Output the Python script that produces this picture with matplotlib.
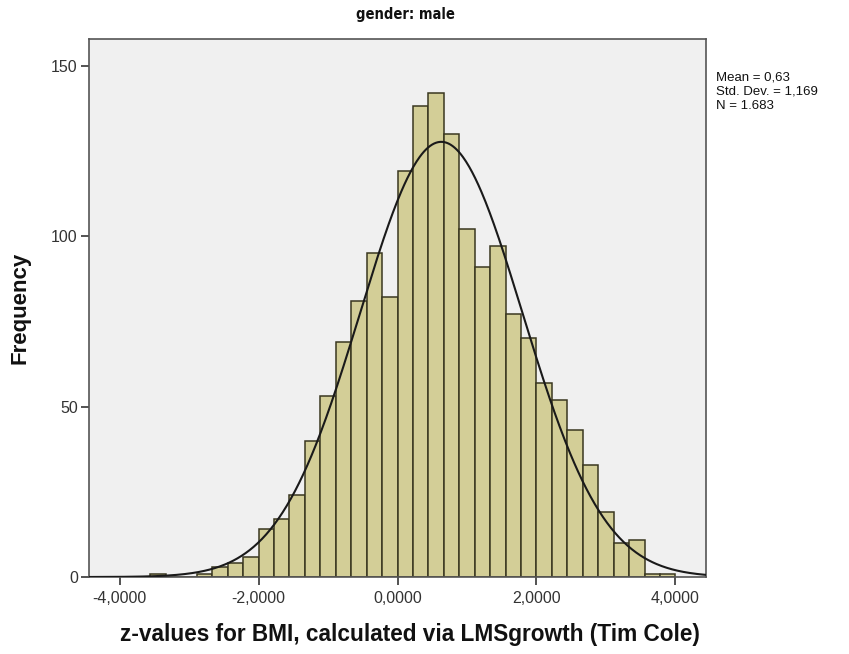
import numpy as np
import matplotlib
matplotlib.use("Agg")
import matplotlib.pyplot as plt

# Histogram of BMI z-scores (boys), bin width 2/9 with edges aligned at 0
bin_width = 2.0 / 9.0
first_bin_index = -16
counts = [1, 0, 0, 1, 3, 4, 6, 14, 17, 24, 40, 53, 69, 81, 95,
          82, 119, 138, 142, 130, 102, 91, 97, 77, 70, 57, 52, 43, 33,
          19, 10, 11, 1, 1]
mean_z = 0.63
sd_z = 1.169
n_obs = 1683

x_ticks = [-4, -2, 0, 2, 4]
x_tick_labels = ["-4,0000", "-2,0000", "0,0000", "2,0000", "4,0000"]
y_ticks = [0, 50, 100, 150]

plt.rcParams["font.family"] = ["Liberation Sans", "DejaVu Sans"]

fig = plt.figure(figsize=(8.49, 6.54), dpi=100)
ax = fig.add_axes([0.1048, 0.1177, 0.7268, 0.8227])
ax.set_facecolor("#F0F0F0")

lefts = (np.arange(len(counts)) + first_bin_index) * bin_width
ax.bar(lefts, counts, width=bin_width, align="edge", color="#D3CE97",
       edgecolor="#3A3720", linewidth=1.1, zorder=2)

xmin, xmax = -4.44, 4.44
xs = np.linspace(xmin, xmax, 600)
pdf = n_obs * bin_width / (sd_z * np.sqrt(2 * np.pi)) * np.exp(-0.5 * ((xs - mean_z) / sd_z) ** 2)
ax.plot(xs, pdf, color="#1A1A1A", linewidth=1.5, zorder=3)

ax.set_xlim(xmin, xmax)
ax.set_ylim(0, 157.8)
ax.set_xticks(x_ticks)
ax.set_xticklabels(x_tick_labels)
ax.set_yticks(y_ticks)

for s in ax.spines.values():
    s.set_color("#555555")
    s.set_linewidth(1.2)
ax.tick_params(axis="both", direction="out", length=6, width=1.3,
               color="#444444", labelsize=11.5, labelcolor="#333333")
ax.tick_params(axis="y", pad=2)
ax.tick_params(axis="x", pad=4)

ax.set_xlabel("z-values for BMI, calculated via LMSgrowth (Tim Cole)",
              fontsize=16.3, fontweight="bold", color="#111111")
ax.xaxis.set_label_coords(0.52, -0.085)
ax.set_ylabel("Frequency", fontsize=16, fontweight="bold", labelpad=15,
              color="#111111")

fig.text(405 / 849, 1 - 14 / 654, "gender: male", ha="center", va="center",
         fontsize=10.5, fontweight="bold", fontstretch="condensed",
         family=["DejaVu Sans"], color="#111111")

fig.text(716 / 849, 1 - 72 / 654,
         "Mean = 0,63\nStd. Dev. = 1,169\nN = 1.683",
         ha="left", va="top", fontsize=9.5, linespacing=1.22, color="#111111")

fig.savefig("out.png", dpi=100, facecolor="white")
